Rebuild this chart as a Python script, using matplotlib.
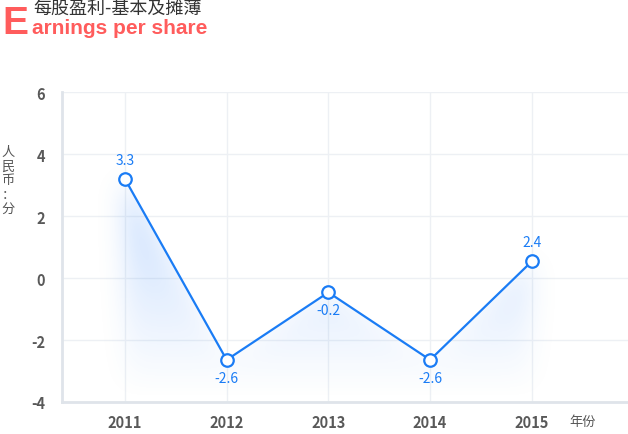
import numpy as np
import matplotlib
matplotlib.use('Agg')
import matplotlib.pyplot as plt

plt.rcParams['font.family'] = ['Noto Sans CJK SC', 'DejaVu Sans']
plt.rcParams['axes.unicode_minus'] = False

# data
years = ['2011', '2012', '2013', '2014', '2015']
eps = [3.2, -2.64, -0.46, -2.64, 0.54]
eps_labels = ['3.3', '-2.6', '-0.2', '-2.6', '2.4']
label_above = [True, False, False, False, True]

blue = '#1a7cf5'
grid_c = '#edf0f4'
axis_c = '#dfe4ea'
tick_c = '#595959'


def blur(a, sigma):
    r = int(3 * sigma)
    k = np.exp(-0.5 * (np.arange(-r, r + 1) / sigma) ** 2)
    k /= k.sum()
    a = np.apply_along_axis(lambda m: np.convolve(m, k, mode='same'), 0, a)
    a = np.apply_along_axis(lambda m: np.convolve(m, k, mode='same'), 1, a)
    return a


fig = plt.figure(figsize=(6.28, 4.35), dpi=100)
ax = fig.add_axes([62 / 628, 1 - 403 / 435, 1 - 62 / 628, (403 - 93.3) / 435])

x = np.arange(len(years))
x0, x1, y0, y1 = -0.619, 4.946, -4, 6
ax.set_xlim(x0, x1)
ax.set_ylim(y0, y1)

# soft glow under the line (blurred area, clipped by the line)
gx = np.linspace(x0, x1, 566)
gy = np.linspace(y1, y0, 310)
XX, YY = np.meshgrid(gx, gy)
line_y = np.interp(gx, x, eps)
inside = (gx >= x[0]) & (gx <= x[-1])
mask = ((YY <= line_y[None, :]) & inside[None, :]).astype(float)
glow = blur(mask, 13)
fade = np.clip((YY - y0) / (max(eps) - y0), 0, 1) ** 1.1
alpha = glow * fade * 0.3
alpha[(YY > line_y[None, :]) & inside[None, :]] = 0
rgba = np.zeros(XX.shape + (4,))
rgba[..., 0] = 0.20
rgba[..., 1] = 0.52
rgba[..., 2] = 0.98
rgba[..., 3] = alpha
ax.imshow(rgba, extent=[x0, x1, y0, y1], aspect='auto', origin='upper',
          zorder=1, interpolation='bilinear')

ax.plot(x, eps, color=blue, lw=1.6, zorder=3,
        marker='o', markersize=9, markerfacecolor='white',
        markeredgecolor=blue, markeredgewidth=1.6)

for xi, v, lab, up in zip(x, eps, eps_labels, label_above):
    if up:
        ax.annotate(lab, (xi, v), xytext=(0, 9), textcoords='offset points',
                    ha='center', va='bottom', color=blue, fontsize=10)
    else:
        ax.annotate(lab, (xi, v), xytext=(0, -8), textcoords='offset points',
                    ha='center', va='top', color=blue, fontsize=10)

ax.set_xticks(x)
ax.set_xticklabels(years)
ax.set_yticks([-4, -2, 0, 2, 4, 6])
ax.grid(True, color=grid_c, lw=1)
ax.set_axisbelow(True)
ax.tick_params(length=0, colors=tick_c, labelsize=10.5)
ax.tick_params(axis='x', pad=9)
ax.tick_params(axis='y', pad=12)
for lab in ax.get_xticklabels() + ax.get_yticklabels():
    lab.set_fontweight('bold')

for s in ['top', 'right']:
    ax.spines[s].set_visible(False)
for s in ['left', 'bottom']:
    ax.spines[s].set_color(axis_c)
    ax.spines[s].set_linewidth(2)

# axis names
fig.text(8 / 628, 1 - 181 / 435, '人\n民\n币\n：\n分', ha='center', va='center',
         fontsize=9.5, color='#555555', linespacing=1.12)
fig.text(583 / 628, 1 - 423 / 435, '年份', ha='center', va='center',
         fontsize=9.5, color='#555555')

# title
red = '#ff5c5c'
fig.text(2 / 628, 1 - 34.5 / 435, 'E', fontsize=28, color=red,
         fontweight='bold', family=['Liberation Sans', 'DejaVu Sans'], va='baseline')
fig.text(33 / 628, 1 - 9 / 435, '每股盈利-基本及摊薄', fontsize=13,
         color='#333333', va='center')
fig.text(32 / 628, 1 - 34.5 / 435, 'arnings per share', fontsize=15, color=red,
         fontweight='bold', family=['Liberation Sans', 'DejaVu Sans'], va='baseline')

fig.savefig('out.png', dpi=100)
